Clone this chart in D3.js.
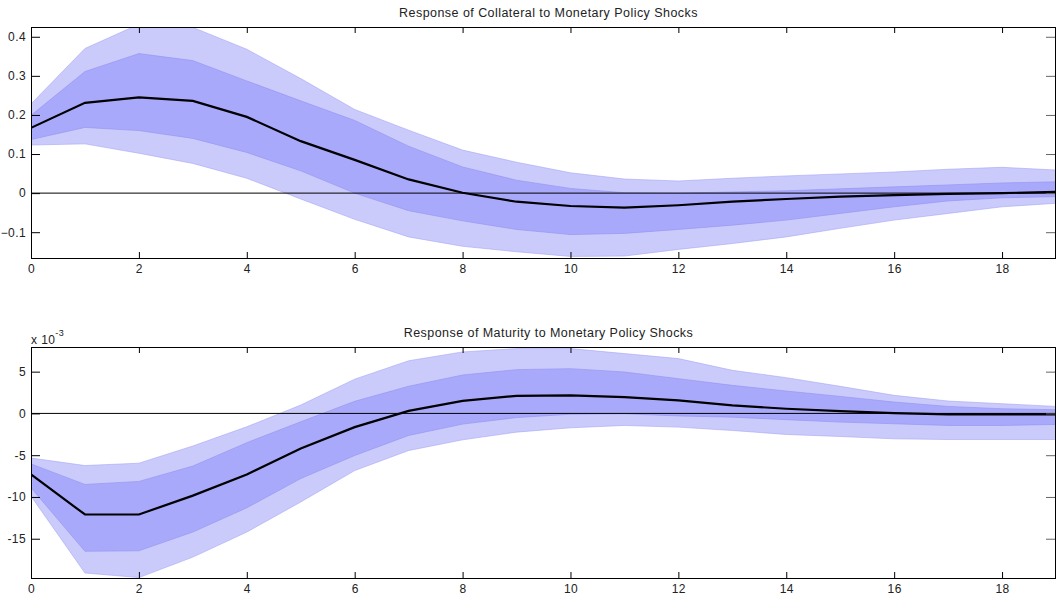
<!DOCTYPE html>
<html>
<head>
<meta charset="utf-8">
<script src="https://cdn.jsdelivr.net/npm/d3@7"></script>
<style>
  body { margin: 0; background: #fff; }
  svg { display: block; font-family: "Liberation Sans", Arial, sans-serif; }
  .tick text { fill: #222; font-size: 12px; letter-spacing: 0.4px; }
  .title { fill: #222; font-size: 12.5px; letter-spacing: 0.45px; }
</style>
</head>
<body>
<svg width="1057" height="602"></svg>
<script>
// horizon 0..19
const horizon = d3.range(0, 20);
const xTicks  = [0, 2, 4, 6, 8, 10, 12, 14, 16, 18];

// Response of Collateral
const collMedian     = [0.167, 0.231, 0.245, 0.236, 0.195, 0.133, 0.085, 0.035, 0.001, -0.022, -0.033, -0.037, -0.031, -0.022, -0.015, -0.009, -0.005, -0.002, 0.000, 0.003];
const collOuterUpper = [0.228, 0.370, 0.432, 0.424, 0.368, 0.293, 0.214, 0.161, 0.110, 0.079, 0.052, 0.036, 0.031, 0.038, 0.044, 0.049, 0.054, 0.061, 0.066, 0.059];
const collInnerUpper = [0.199, 0.311, 0.357, 0.339, 0.287, 0.236, 0.186, 0.120, 0.067, 0.033, 0.012, 0.001, 0.000, 0.003, 0.006, 0.011, 0.016, 0.021, 0.026, 0.029];
const collInnerLower = [0.137, 0.168, 0.160, 0.140, 0.104, 0.057, 0.000, -0.045, -0.071, -0.093, -0.106, -0.103, -0.093, -0.082, -0.069, -0.052, -0.035, -0.020, -0.012, -0.009];
const collOuterLower = [0.123, 0.126, 0.102, 0.076, 0.038, -0.015, -0.067, -0.112, -0.136, -0.150, -0.162, -0.161, -0.144, -0.129, -0.112, -0.090, -0.069, -0.052, -0.035, -0.026];
const collYTicks     = [-0.1, 0, 0.1, 0.2, 0.3, 0.4];

// Response of Maturity (x 10^-3)
const matMedian     = [-7.30, -12.10, -12.10, -9.84, -7.30, -4.20, -1.64, 0.30, 1.50, 2.10, 2.15, 1.96, 1.56, 0.96, 0.56, 0.28, 0.04, -0.12, -0.12, -0.12];
const matOuterUpper = [-5.34, -6.24, -5.96, -3.90, -1.60, 1.00, 4.10, 6.30, 7.36, 7.76, 7.76, 7.16, 6.56, 5.16, 4.28, 3.24, 2.16, 1.48, 1.16, 0.84];
const matInnerUpper = [-6.04, -8.50, -8.14, -6.30, -3.50, -1.00, 1.45, 3.25, 4.60, 5.24, 5.36, 4.96, 4.16, 3.36, 2.68, 2.04, 1.36, 0.84, 0.56, 0.44];
const matInnerLower = [-8.90, -16.50, -16.45, -14.20, -11.30, -7.80, -5.04, -2.64, -1.28, -0.50, -0.10, -0.05, -0.30, -0.45, -0.75, -1.04, -1.24, -1.44, -1.44, -1.32];
const matOuterLower = [-9.90, -19.10, -19.65, -17.20, -14.20, -10.60, -6.84, -4.44, -3.16, -2.24, -1.72, -1.44, -1.64, -2.04, -2.52, -2.76, -3.04, -3.12, -3.12, -3.12];
const matYTicks     = [-15, -10, -5, 0, 5];

const panels = [
  {
    title: 'Response of Collateral to Monetary Policy Shocks',
    top: 27, bottom: 258,
    yDomain: [-0.166, 0.425],
    yTicks: collYTicks,
    fmt: d => d === 0 ? '0' : d3.format('.1f')(d),
    median: collMedian,
    outer: [collOuterLower, collOuterUpper],
    inner: [collInnerLower, collInnerUpper],
    exponent: null
  },
  {
    title: 'Response of Maturity to Monetary Policy Shocks',
    top: 347, bottom: 578,
    yDomain: [-19.7, 7.95],
    yTicks: matYTicks,
    fmt: d => String(d),
    median: matMedian,
    outer: [matOuterLower, matOuterUpper],
    inner: [matInnerLower, matInnerUpper],
    exponent: '-3'
  }
];

function draw (svgNode) {
  let svg = d3.select(svgNode);
  let left = 31, right = 1056;

  let x = d3.scaleLinear().domain([0, 19]).range([left, right]);

  panels.forEach((p, i) => {
    let y = d3.scaleLinear().domain(p.yDomain).range([p.bottom, p.top]);

    let g = svg.append('g').attr('class', 'panel');

    g.append('clipPath')
      .attr('id', 'clip' + i)
      .append('rect')
        .attr('x', left)
        .attr('y', p.top)
        .attr('width', right - left)
        .attr('height', p.bottom - p.top);

    let plot = g.append('g').attr('clip-path', `url(#clip${i})`);

    let band = ([lo, hi]) => d3.area()
      .x(d => x(d))
      .y0(d => y(lo[d]))
      .y1(d => y(hi[d]))(horizon);

    plot.append('path')
      .attr('d', band(p.outer))
      .attr('fill', '#cbcbfb')
      .attr('stroke', '#a4a4f6')
      .attr('stroke-width', 0.6);

    plot.append('path')
      .attr('d', band(p.inner))
      .attr('fill', '#a9a9fb')
      .attr('stroke', '#9090f2')
      .attr('stroke-width', 0.6);

    // zero line
    plot.append('line')
      .attr('x1', left).attr('x2', right)
      .attr('y1', y(0)).attr('y2', y(0))
      .attr('stroke', '#000')
      .attr('stroke-width', 1);

    plot.append('path')
      .attr('d', d3.line().x(d => x(d)).y(d => y(p.median[d]))(horizon))
      .attr('fill', 'none')
      .attr('stroke', '#000')
      .attr('stroke-width', 2.2);

    // Axes, ticks inside the box
    g.append('g')
      .attr('transform', `translate(0, ${p.bottom})`)
      .call(d3.axisBottom(x).tickValues(xTicks).tickSizeInner(-6).tickSizeOuter(0).tickPadding(6));

    g.append('g')
      .attr('transform', `translate(0, ${p.top})`)
      .call(d3.axisTop(x).tickValues(xTicks).tickSizeInner(-6).tickSizeOuter(0).tickFormat(''));

    g.append('g')
      .attr('transform', `translate(${left}, 0)`)
      .call(d3.axisLeft(y).tickValues(p.yTicks).tickSizeInner(-9).tickSizeOuter(0).tickPadding(5).tickFormat(p.fmt));

    g.append('g')
      .attr('transform', `translate(${right}, 0)`)
      .call(d3.axisRight(y).tickValues(p.yTicks).tickSizeInner(-10).tickSizeOuter(0).tickFormat(''))
      .selectAll('line').attr('stroke', '#666');

    g.selectAll('.domain').remove();
    g.selectAll('.tick text').style('font-family', null);

    g.append('rect')
      .attr('x', left + 0.5)
      .attr('y', p.top + 0.5)
      .attr('width', right - left - 1)
      .attr('height', p.bottom - p.top)
      .attr('fill', 'none')
      .attr('stroke', '#000')
      .attr('stroke-width', 1);

    g.append('text')
      .attr('class', 'title')
      .attr('x', (left + right) / 2 + 5)
      .attr('y', p.top - 10)
      .attr('text-anchor', 'middle')
      .text(p.title);

    if (p.exponent) {
      let t = g.append('text')
        .attr('x', left)
        .attr('y', p.top - 3)
        .attr('fill', '#222')
        .attr('font-size', 12)
        .attr('letter-spacing', 0.4);
      t.append('tspan').text('x 10');
      t.append('tspan')
        .attr('dy', -8)
        .attr('font-size', 9)
        .text(p.exponent);
    }
  });
}

document.addEventListener('DOMContentLoaded', function () {
  draw(document.querySelector('svg'));
});
</script>
</body>
</html>
